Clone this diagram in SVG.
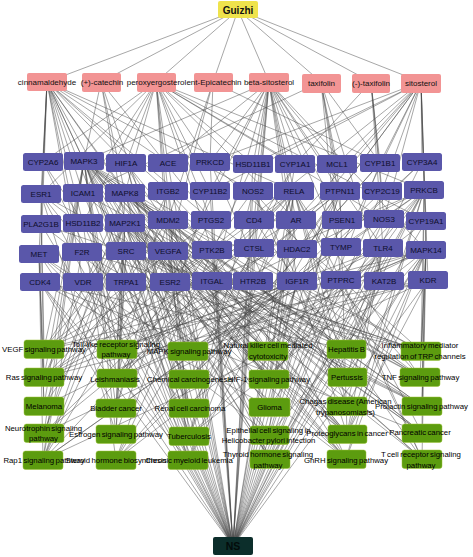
<svg xmlns="http://www.w3.org/2000/svg" width="473" height="557" viewBox="0 0 473 557">
<style>
.e{fill:none;stroke:#454545;stroke-width:0.6;stroke-opacity:0.8}
text{font-family:'Liberation Sans',Arial,Helvetica,sans-serif;text-anchor:middle}
.cp rect{fill:#f29494}
.cp text{font-size:8px;fill:#111}
.gn rect{fill:#5a57aa}
.gn text{font-size:8px;fill:#0e0e2a}
.pw rect{fill:#5c9c0f;stroke:#9cc23a;stroke-width:0.5}
.pw text{font-size:7.8px;word-spacing:-0.8px;fill:#000}
</style>
<rect width="473" height="557" fill="#fff"/>
<g id="edges" class="e">
<path d="M238 10L47 82M238 10L101 82M238 10L156 82M238 10L213 82M238 10L269 82M238 10L321 82M238 10L371 82M238 10L421 82"/>
<path d="M47 82L43 162M47 82L84 161M47 82L126 163M47 82L168 163M47 82L41 194M47 82L83 193M47 82L125 193M47 82L168 191M47 82L41 224M47 82L83 223M47 82L125 223M47 82L211 220M47 82L253 191M47 82L294 191M47 82L39 254M47 82L82 252M47 82L126 251M47 82L168 251M47 82L40 282M47 82L126 282M47 82L83 282"/>
<path d="M101 82L84 161M101 82L125 193M101 82L211 220M101 82L170 282M101 82L125 223"/>
<path d="M156 82L43 162M156 82L126 163M156 82L168 163M156 82L210 162M156 82L253 164M156 82L295 164M156 82L168 191M156 82L210 191M156 82L125 193M156 82L41 194M156 82L168 220M156 82L211 220M156 82L296 220M156 82L384 219M156 82L426 221M156 82L212 250M156 82L170 282M156 82L424 190M156 82L83 193M156 82L83 223"/>
<path d="M213 82L210 162M213 82L168 220M213 82L380 163M213 82L168 251"/>
<path d="M269 82L168 163M269 82L210 162M269 82L253 164M269 82L295 164M269 82L337 164M269 82L253 191M269 82L294 191M269 82L340 191M269 82L254 220M269 82L296 220M269 82L342 220M269 82L254 248M269 82L297 249M269 82L341 247M269 82L383 248M269 82L212 281M269 82L253 281M269 82L297 281M269 82L426 250M269 82L170 282M269 82L210 191M269 82L84 161"/>
<path d="M321 82L380 163M321 82L337 164M321 82L340 191M321 82L342 220M321 82L384 281M321 82L341 280M321 82L83 193"/>
<path d="M371 82L295 164M371 82L380 163M371 82L382 191M371 82L384 219M371 82L383 248"/>
<path d="M421 82L422 162M421 82L424 190M421 82L426 221M421 82L426 250M421 82L428 280M421 82L382 191M421 82L384 219M421 82L341 247M421 82L297 249M421 82L296 220M421 82L380 163M421 82L337 164M421 82L253 164M421 82L210 162M421 82L210 191M421 82L170 282M421 82L253 281M421 82L340 191"/>
<path d="M44 349L84 161M44 349L426 250M44 349L126 251M44 349L212 250M44 349L428 280M44 349L125 223M44 349L424 190M44 349L211 220M44 349L41 194"/>
<path d="M44 377L84 161M44 377L125 193M44 377L125 223M44 377L428 280M44 377L297 281M44 377L340 191M44 377L294 191M44 377L424 190M44 377L41 224M44 377L168 251M44 377L39 254"/>
<path d="M44 406L40 282M44 406L39 254M44 406L125 223M44 406L84 161M44 406L168 220M44 406L297 281"/>
<path d="M44 433L84 161M44 433L125 193M44 433L125 223M44 433L426 250M44 433L294 191M44 433L340 191"/>
<path d="M43 460L84 161M43 460L125 223M43 460L126 251M43 460L168 251M43 460L428 280M43 460L297 281M43 460L39 254M43 460L168 191M43 460L212 281M43 460L424 190M43 460L82 252"/>
<path d="M117 349L84 161M117 349L125 193M117 349L125 223M117 349L426 250M117 349L294 191M117 349L383 248"/>
<path d="M117 378L84 161M117 378L426 250M117 378L294 191M117 378L383 248M117 378L211 220M117 378L253 191M117 378L168 191M117 378L340 191"/>
<path d="M116 408L84 161M116 408L125 223M116 408L168 220M116 408L126 251M116 408L168 251M116 408L40 282"/>
<path d="M116 434L84 161M116 434L125 223M116 434L41 194M116 434L170 282M116 434L126 251"/>
<path d="M116 460L295 164M116 460L380 163M116 460L422 162M116 460L210 191M116 460L426 221M116 460L253 164M116 460L83 223"/>
<path d="M188 351L84 161M188 351L125 193M188 351L125 223M188 351L426 250M188 351L294 191M188 351L424 190M188 351L428 280M188 351L297 281M188 351L39 254M188 351L168 251"/>
<path d="M189 379L295 164M189 379L380 163M189 379L43 162M189 379L422 162M189 379L382 191M189 379L41 194"/>
<path d="M189 408L84 161M189 408L125 223M189 408L126 163M189 408L168 251M189 408L39 254M189 408L340 191"/>
<path d="M189 436L84 161M189 436L125 193M189 436L426 250M189 436L294 191M189 436L383 248M189 436L254 248M189 436L168 191M189 436L253 191"/>
<path d="M188 460L84 161M188 460L125 223M188 460L168 220M188 460L40 282M188 460L294 191M188 460L340 191"/>
<path d="M268 351L84 161M268 351L125 223M268 351L83 193M268 351L168 191M268 351L212 281M268 351L424 190M268 351L340 191"/>
<path d="M269 379L84 161M269 379L125 223M269 379L126 163M269 379L168 251M269 379L294 191M269 379L384 219M269 379L297 281M269 379L383 248M269 379L424 190"/>
<path d="M269 407L84 161M269 407L125 223M269 407L168 220M269 407L40 282M269 407L297 281M269 407L424 190"/>
<path d="M269 435L125 193M269 435L426 250M269 435L294 191M269 435L126 251M269 435L39 254M269 435L340 191"/>
<path d="M270 459L84 161M270 459L125 223M270 459L126 251M270 459L126 163M270 459L168 220M270 459L424 190M270 459L384 281"/>
<path d="M346 349L84 161M346 349L125 193M346 349L125 223M346 349L294 191M346 349L383 248M346 349L126 251M346 349L40 282M346 349L424 190"/>
<path d="M347 377L84 161M347 377L125 193M347 377L426 250M347 377L294 191M347 377L383 248M347 377L168 191M347 377L253 191"/>
<path d="M347 406L125 193M347 406L426 250M347 406L294 191M347 406L383 248M347 406L253 191M347 406L82 252"/>
<path d="M347 434L84 161M347 434L125 223M347 434L426 250M347 434L41 194M347 434L126 251M347 434L168 251M347 434L428 280M347 434L126 163M347 434L340 191M347 434L424 190M347 434L297 281M347 434L168 220M347 434L383 248"/>
<path d="M346 459L84 161M346 459L125 193M346 459L125 223M346 459L426 250M346 459L126 251M346 459L424 190M346 459L210 162M346 459L41 224M346 459L212 250"/>
<path d="M421 351L125 193M421 351L426 250M421 351L424 190M421 351L210 162M421 351L126 282M421 351L41 224M421 351L126 251M421 351L82 252M421 351L84 161"/>
<path d="M420 377L84 161M420 377L125 193M420 377L426 250M420 377L294 191M420 377L125 223M420 377L211 220M420 377L83 193M420 377L253 191"/>
<path d="M422 406L84 161M422 406L125 193M422 406L125 223M422 406L426 250M422 406L126 251M422 406L41 194M422 406L170 282M422 406L426 221"/>
<path d="M422 433L84 161M422 433L125 193M422 433L125 223M422 433L294 191M422 433L40 282M422 433L168 251M422 433L424 190"/>
<path d="M422 459L84 161M422 459L125 193M422 459L125 223M422 459L426 250M422 459L294 191M422 459L254 220M422 459L341 280"/>
<path d="M233 546L43 162M233 546L84 161M233 546L126 163M233 546L168 163M233 546L210 162M233 546L253 164M233 546L295 164M233 546L337 164M233 546L380 163M233 546L422 162M233 546L41 194M233 546L83 193M233 546L125 193M233 546L168 191M233 546L210 191M233 546L253 191M233 546L294 191M233 546L340 191M233 546L382 191M233 546L424 190M233 546L41 224M233 546L83 223M233 546L125 223M233 546L168 220M233 546L211 220M233 546L254 220M233 546L296 220M233 546L342 220M233 546L384 219M233 546L426 221M233 546L39 254M233 546L82 252M233 546L126 251M233 546L168 251M233 546L212 250M233 546L254 248M233 546L297 249M233 546L341 247M233 546L383 248M233 546L426 250M233 546L40 282M233 546L83 282M233 546L126 282M233 546L170 282M233 546L212 281M233 546L253 281M233 546L297 281M233 546L341 280M233 546L384 281M233 546L428 280"/>
</g>
<g id="Guizhi"><rect x="218" y="1" width="40" height="17" rx="2" fill="#efe34c"/><text x="238" y="13.5" font-size="10" font-weight="bold" fill="#111">Guizhi</text></g>
<g id="NS"><rect x="213" y="537" width="40" height="18" rx="2" fill="#0c2e2b"/><text x="233" y="550" font-size="10.5" font-weight="bold" fill="#030b0a">NS</text></g>
<g class="cp">
<g id="c-cinnamaldehyde"><rect x="27" y="73" width="40" height="18" rx="2"/><text x="47" y="85">cinnamaldehyde</text></g>
<g id="c-catechin"><rect x="82" y="73" width="39" height="19" rx="2"/><text x="102" y="85">(+)-catechin</text></g>
<g id="c-peroxyergosterol"><rect x="137" y="73" width="39" height="19" rx="2"/><text x="156.5" y="85">peroxyergosterol</text></g>
<g id="c-ent-Epicatechin"><rect x="194" y="73" width="39" height="19" rx="2"/><text x="214" y="85">ent-Epicatechin</text></g>
<g id="c-beta-sitosterol"><rect x="249" y="73" width="40" height="19" rx="2"/><text x="269" y="85">beta-sitosterol</text></g>
<g id="c-taxifolin"><rect x="302" y="74" width="39" height="19" rx="2"/><text x="321.5" y="86">taxifolin</text></g>
<g id="c-m-taxifolin"><rect x="352" y="74" width="38" height="19" rx="2"/><text x="371" y="86">(-)-taxifolin</text></g>
<g id="c-sitosterol"><rect x="401" y="74" width="40" height="19" rx="2"/><text x="421" y="86">sitosterol</text></g>
</g>
<g class="gn">
<g id="CYP2A6"><rect x="23" y="153" width="40" height="18" rx="2.5"/><text x="43" y="165">CYP2A6</text></g>
<g id="MAPK3"><rect x="64" y="152" width="40" height="18" rx="2.5"/><text x="84" y="164">MAPK3</text></g>
<g id="HIF1A"><rect x="106" y="154" width="40" height="18" rx="2.5"/><text x="126" y="166">HIF1A</text></g>
<g id="ACE"><rect x="148" y="154" width="40" height="18" rx="2.5"/><text x="168" y="166">ACE</text></g>
<g id="PRKCD"><rect x="190" y="153" width="40" height="18" rx="2.5"/><text x="210" y="165">PRKCD</text></g>
<g id="HSD11B1"><rect x="233" y="155" width="40" height="18" rx="2.5"/><text x="253" y="167">HSD11B1</text></g>
<g id="CYP1A1"><rect x="275" y="155" width="40" height="18" rx="2.5"/><text x="295" y="167">CYP1A1</text></g>
<g id="MCL1"><rect x="317" y="155" width="40" height="18" rx="2.5"/><text x="337" y="167">MCL1</text></g>
<g id="CYP1B1"><rect x="360" y="154" width="40" height="18" rx="2.5"/><text x="380" y="166">CYP1B1</text></g>
<g id="CYP3A4"><rect x="402" y="153" width="40" height="18" rx="2.5"/><text x="422" y="165">CYP3A4</text></g>
<g id="ESR1"><rect x="21" y="185" width="40" height="18" rx="2.5"/><text x="41" y="197">ESR1</text></g>
<g id="ICAM1"><rect x="63" y="184" width="40" height="18" rx="2.5"/><text x="83" y="196">ICAM1</text></g>
<g id="MAPK8"><rect x="105" y="184" width="40" height="18" rx="2.5"/><text x="125" y="196">MAPK8</text></g>
<g id="ITGB2"><rect x="148" y="182" width="40" height="18" rx="2.5"/><text x="168" y="194">ITGB2</text></g>
<g id="CYP11B2"><rect x="190" y="182" width="40" height="18" rx="2.5"/><text x="210" y="194">CYP11B2</text></g>
<g id="NOS2"><rect x="233" y="182" width="40" height="18" rx="2.5"/><text x="253" y="194">NOS2</text></g>
<g id="RELA"><rect x="274" y="182" width="40" height="18" rx="2.5"/><text x="294" y="194">RELA</text></g>
<g id="PTPN11"><rect x="320" y="182" width="40" height="18" rx="2.5"/><text x="340" y="194">PTPN11</text></g>
<g id="CYP2C19"><rect x="362" y="182" width="40" height="18" rx="2.5"/><text x="382" y="194">CYP2C19</text></g>
<g id="PRKCB"><rect x="404" y="181" width="40" height="18" rx="2.5"/><text x="424" y="193">PRKCB</text></g>
<g id="PLA2G1B"><rect x="21" y="215" width="40" height="18" rx="2.5"/><text x="41" y="227">PLA2G1B</text></g>
<g id="HSD11B2"><rect x="63" y="214" width="40" height="18" rx="2.5"/><text x="83" y="226">HSD11B2</text></g>
<g id="MAP2K1"><rect x="105" y="214" width="40" height="18" rx="2.5"/><text x="125" y="226">MAP2K1</text></g>
<g id="MDM2"><rect x="148" y="211" width="40" height="18" rx="2.5"/><text x="168" y="223">MDM2</text></g>
<g id="PTGS2"><rect x="191" y="211" width="40" height="18" rx="2.5"/><text x="211" y="223">PTGS2</text></g>
<g id="CD4"><rect x="234" y="211" width="40" height="18" rx="2.5"/><text x="254" y="223">CD4</text></g>
<g id="AR"><rect x="276" y="211" width="40" height="18" rx="2.5"/><text x="296" y="223">AR</text></g>
<g id="PSEN1"><rect x="322" y="211" width="40" height="18" rx="2.5"/><text x="342" y="223">PSEN1</text></g>
<g id="NOS3"><rect x="364" y="210" width="40" height="18" rx="2.5"/><text x="384" y="222">NOS3</text></g>
<g id="CYP19A1"><rect x="406" y="212" width="40" height="18" rx="2.5"/><text x="426" y="224">CYP19A1</text></g>
<g id="MET"><rect x="19" y="245" width="40" height="18" rx="2.5"/><text x="39" y="257">MET</text></g>
<g id="F2R"><rect x="62" y="243" width="40" height="18" rx="2.5"/><text x="82" y="255">F2R</text></g>
<g id="SRC"><rect x="106" y="242" width="40" height="18" rx="2.5"/><text x="126" y="254">SRC</text></g>
<g id="VEGFA"><rect x="148" y="242" width="40" height="18" rx="2.5"/><text x="168" y="254">VEGFA</text></g>
<g id="PTK2B"><rect x="192" y="241" width="40" height="18" rx="2.5"/><text x="212" y="253">PTK2B</text></g>
<g id="CTSL"><rect x="234" y="239" width="40" height="18" rx="2.5"/><text x="254" y="251">CTSL</text></g>
<g id="HDAC2"><rect x="277" y="240" width="40" height="18" rx="2.5"/><text x="297" y="252">HDAC2</text></g>
<g id="TYMP"><rect x="321" y="238" width="40" height="18" rx="2.5"/><text x="341" y="250">TYMP</text></g>
<g id="TLR4"><rect x="363" y="239" width="40" height="18" rx="2.5"/><text x="383" y="251">TLR4</text></g>
<g id="MAPK14"><rect x="406" y="241" width="40" height="18" rx="2.5"/><text x="426" y="253">MAPK14</text></g>
<g id="CDK4"><rect x="20" y="273" width="40" height="18" rx="2.5"/><text x="40" y="285">CDK4</text></g>
<g id="VDR"><rect x="63" y="273" width="40" height="18" rx="2.5"/><text x="83" y="285">VDR</text></g>
<g id="TRPA1"><rect x="106" y="273" width="40" height="18" rx="2.5"/><text x="126" y="285">TRPA1</text></g>
<g id="ESR2"><rect x="150" y="273" width="40" height="18" rx="2.5"/><text x="170" y="285">ESR2</text></g>
<g id="ITGAL"><rect x="192" y="272" width="40" height="18" rx="2.5"/><text x="212" y="284">ITGAL</text></g>
<g id="HTR2B"><rect x="233" y="272" width="40" height="18" rx="2.5"/><text x="253" y="284">HTR2B</text></g>
<g id="IGF1R"><rect x="277" y="272" width="40" height="18" rx="2.5"/><text x="297" y="284">IGF1R</text></g>
<g id="PTPRC"><rect x="321" y="271" width="40" height="18" rx="2.5"/><text x="341" y="283">PTPRC</text></g>
<g id="KAT2B"><rect x="364" y="272" width="40" height="18" rx="2.5"/><text x="384" y="284">KAT2B</text></g>
<g id="KDR"><rect x="408" y="271" width="40" height="18" rx="2.5"/><text x="428" y="283">KDR</text></g>
</g>
<g class="pw">
<g id="p-vegf"><rect x="24" y="340" width="40" height="18.5" rx="2.5"/><text x="44" y="352">VEGF signaling pathway</text></g>
<g id="p-ras"><rect x="24" y="368" width="40" height="18.5" rx="2.5"/><text x="44" y="380">Ras signaling pathway</text></g>
<g id="p-melanoma"><rect x="24" y="397" width="40" height="18.5" rx="2.5"/><text x="44" y="409">Melanoma</text></g>
<g id="p-neurotrophin"><rect x="24" y="424" width="40" height="18.5" rx="2.5"/><text x="43.5" y="431">Neurotrophin signaling</text><text x="43.5" y="441">pathway</text></g>
<g id="p-rap1"><rect x="23" y="451" width="40" height="18.5" rx="2.5"/><text x="44" y="463">Rap1 signaling pathway</text></g>
<g id="p-toll"><rect x="97" y="340" width="40" height="18.5" rx="2.5"/><text x="116" y="347">Toll-like receptor signaling</text><text x="116" y="357">pathway</text></g>
<g id="p-leish"><rect x="97" y="369" width="40" height="18.5" rx="2.5"/><text x="115" y="382">Leishmaniasis</text></g>
<g id="p-bladder"><rect x="96" y="399" width="40" height="18.5" rx="2.5"/><text x="116" y="411">Bladder cancer</text></g>
<g id="p-estrogen"><rect x="96" y="425" width="40" height="18.5" rx="2.5"/><text x="116" y="437">Estrogen signaling pathway</text></g>
<g id="p-steroid"><rect x="96" y="451" width="40" height="18.5" rx="2.5"/><text x="116" y="463">Steroid hormone biosynthesis</text></g>
<g id="p-mapk"><rect x="168" y="342" width="40" height="18.5" rx="2.5"/><text x="189" y="354">MAPK signaling pathway</text></g>
<g id="p-chem"><rect x="169" y="370" width="40" height="18.5" rx="2.5"/><text x="190" y="382">Chemical carcinogenesis</text></g>
<g id="p-renal"><rect x="169" y="399" width="40" height="18.5" rx="2.5"/><text x="190" y="411">Renal cell carcinoma</text></g>
<g id="p-tb"><rect x="169" y="427" width="40" height="18.5" rx="2.5"/><text x="189" y="439">Tuberculosis</text></g>
<g id="p-cml"><rect x="168" y="451" width="40" height="18.5" rx="2.5"/><text x="189" y="463">Chronic myeloid leukemia</text></g>
<g id="p-nk"><rect x="248" y="342" width="40" height="18.5" rx="2.5"/><text x="268" y="348">Natural killer cell mediated</text><text x="268" y="359">cytotoxicity</text></g>
<g id="p-hif1"><rect x="249" y="370" width="40" height="18.5" rx="2.5"/><text x="269" y="382">HIF-1 signaling pathway</text></g>
<g id="p-glioma"><rect x="249" y="398" width="41" height="18.5" rx="2.5"/><text x="269.5" y="410">Glioma</text></g>
<g id="p-epith"><rect x="250" y="426" width="39" height="18.5" rx="2.5"/><text x="268.5" y="433">Epithelial cell signaling in</text><text x="268.5" y="443">Helicobacter pylori infection</text></g>
<g id="p-thyroid"><rect x="250" y="450" width="40" height="18.5" rx="2.5"/><text x="268" y="457">Thyroid hormone signaling</text><text x="268" y="468">pathway</text></g>
<g id="p-hepb"><rect x="327" y="340" width="39" height="18.5" rx="2.5"/><text x="346.5" y="352">Hepatitis B</text></g>
<g id="p-pert"><rect x="328" y="368" width="39" height="18.5" rx="2.5"/><text x="347" y="380">Pertussis</text></g>
<g id="p-chagas"><rect x="327" y="397" width="40" height="18.5" rx="2.5"/><text x="345.5" y="404">Chagas disease (American</text><text x="345.5" y="415">trypanosomiasis)</text></g>
<g id="p-proteo"><rect x="328" y="425" width="39" height="18.5" rx="2.5"/><text x="347" y="436">Proteoglycans in cancer</text></g>
<g id="p-gnrh"><rect x="327" y="450" width="39" height="18.5" rx="2.5"/><text x="346" y="463">GnRH signaling pathway</text></g>
<g id="p-inflam"><rect x="401" y="342" width="40" height="18.5" rx="2.5"/><text x="420" y="348">Inflammatory mediator</text><text x="420" y="359">regulation of TRP channels</text></g>
<g id="p-tnf"><rect x="400" y="368" width="40" height="18.5" rx="2.5"/><text x="420.5" y="380">TNF signaling pathway</text></g>
<g id="p-prolactin"><rect x="402" y="397" width="40" height="18.5" rx="2.5"/><text x="421.5" y="409">Prolactin signaling pathway</text></g>
<g id="p-pancreatic"><rect x="402" y="424" width="40" height="18.5" rx="2.5"/><text x="420" y="435">Pancreatic cancer</text></g>
<g id="p-tcell"><rect x="402" y="450" width="40" height="18.5" rx="2.5"/><text x="421" y="457">T cell receptor signaling</text><text x="421" y="468">pathway</text></g>
</g>
</svg>
